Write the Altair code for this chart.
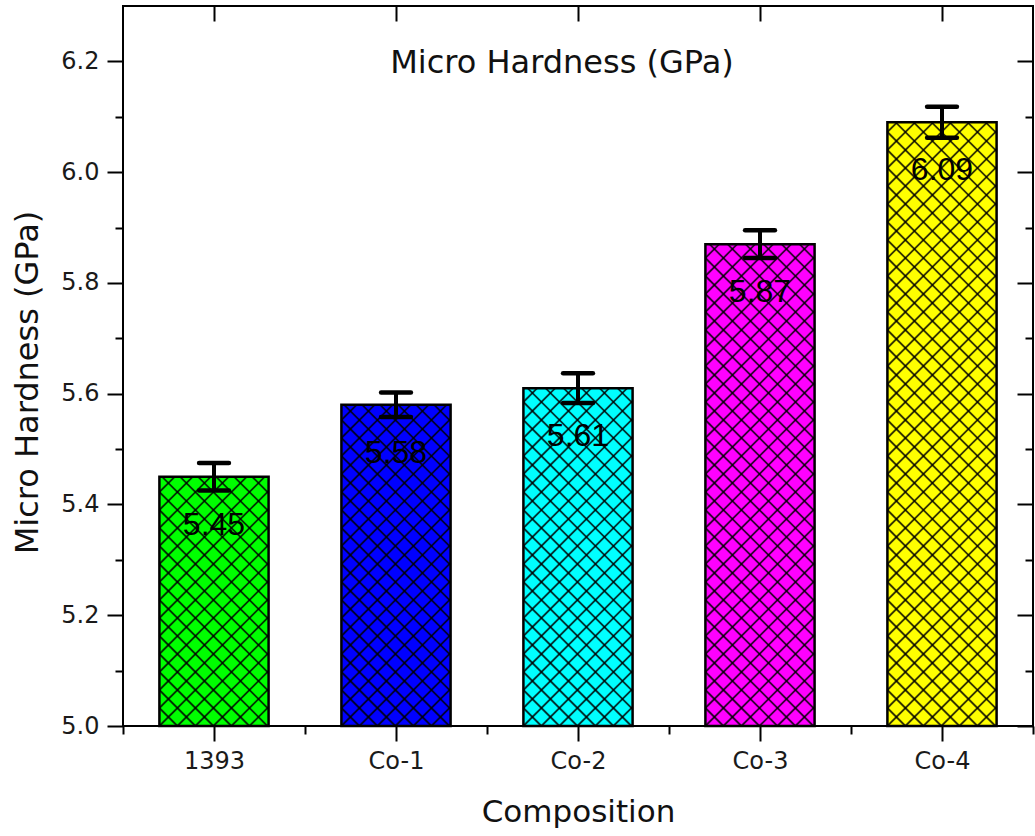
import json

import altair as alt
import numpy as np
import pandas as pd

# ---- data -------------------------------------------------------------
compositions = ["1393", "Co-1", "Co-2", "Co-3", "Co-4"]
hardness = [5.45, 5.58, 5.61, 5.87, 6.09]          # GPa
hardness_err = [0.025, 0.022, 0.027, 0.025, 0.028]  # GPa
bar_colors = ["#00ff00", "#0000ff", "#00ffff", "#ff00ff", "#ffff00"]

y_major = [5.0, 5.2, 5.4, 5.6, 5.8, 6.0, 6.2]
y_minor = [5.1, 5.3, 5.5, 5.7, 5.9, 6.1]

# ---- geometry -----------------------------------------------------------
W, H = 910, 720
Y_MIN, Y_MAX = 5.0, 6.3
N = len(compositions)
BAR_HALF = 0.3      # half bar width in category units
CAP_HALF = 0.082    # half error-cap width in category units
HATCH = 18.0        # crosshatch spacing in pixels

PX_X = W / N                    # pixels per category unit
PX_Y = H / (Y_MAX - Y_MIN)      # pixels per GPa

x_major = [i + 0.5 for i in range(N)]
x_minor = [float(i) for i in range(N + 1)]

bars = pd.DataFrame({
    "composition": compositions,
    "hardness": hardness,
    "err": hardness_err,
    "color": bar_colors,
    "xc": x_major,
})
bars["x0"] = bars["xc"] - BAR_HALF
bars["x1"] = bars["xc"] + BAR_HALF
bars["base"] = Y_MIN
bars["lo"] = bars["hardness"] - bars["err"]
bars["hi"] = bars["hardness"] + bars["err"]
bars["c0"] = bars["xc"] - CAP_HALF
bars["c1"] = bars["xc"] + CAP_HALF
bars["label"] = [f"{v:.2f}" for v in hardness]


# crosshatch segments clipped to each bar (built in pixel space, stored in data units)
def hatch_segments(x0, x1, top):
    px0, px1 = x0 * PX_X, x1 * PX_X
    py_top, py_bot = (Y_MAX - top) * PX_Y, H
    segs = []
    # lines px + py = c
    for c in np.arange(px0 + py_bot - HATCH * 60, px1 + py_bot + HATCH, HATCH):
        a, b = max(px0, c - py_bot), min(px1, c - py_top)
        if b - a > 0.5:
            segs.append((a, c - a, b, c - b))
    # lines px - py = c
    for c in np.arange(px0 - py_bot - HATCH * 60, px1 - py_top + HATCH, HATCH):
        a, b = max(px0, c + py_top), min(px1, c + py_bot)
        if b - a > 0.5:
            segs.append((a, a - c, b, b - c))
    return [
        {"hx": sx / PX_X, "hy": Y_MAX - sy / PX_Y, "hx2": ex / PX_X, "hy2": Y_MAX - ey / PX_Y}
        for sx, sy, ex, ey in segs
    ]


hatch_rows = []
for _, r in bars.iterrows():
    hatch_rows += hatch_segments(r["x0"], r["x1"], r["hardness"])
hatch = pd.DataFrame(hatch_rows)

# ---- scales & axes ------------------------------------------------------
xs = alt.Scale(domain=[0, N], nice=False, zero=False)
ys = alt.Scale(domain=[Y_MIN, Y_MAX], nice=False, zero=False)

FONT = "DejaVu Sans"
label_expr = f"{json.dumps(compositions)}[floor(datum.value)]"

common_axis = dict(domain=False, grid=False, tickColor="black", tickWidth=2)

ax_bottom = alt.Axis(
    orient="bottom", values=x_major, tickSize=15, labelExpr=label_expr,
    labelFont=FONT, labelFontSize=24, labelColor="#1a1a1a", labelPadding=8,
    title="Composition", titleFont=FONT, titleFontSize=31, titleFontWeight="normal",
    titleColor="#111", titlePadding=24, **common_axis,
)
ax_bottom_minor = alt.Axis(orient="bottom", values=x_minor, tickSize=8, labels=False,
                           title=None, **common_axis)
ax_top = alt.Axis(orient="bottom", offset=-H, values=x_major, tickSize=15, labels=False,
                  title=None, **common_axis)

ax_left = alt.Axis(
    orient="left", values=y_major, format=".1f", tickSize=16,
    labelFont=FONT, labelFontSize=24, labelColor="#1a1a1a", labelPadding=8,
    title="Micro Hardness (GPa)", titleFont=FONT, titleFontSize=32,
    titleFontWeight="normal", titleColor="#111", titlePadding=16, titleY=376,
    **common_axis,
)
ax_left_minor = alt.Axis(orient="left", values=y_minor, tickSize=8, labels=False,
                         title=None, **common_axis)
ax_right = alt.Axis(orient="left", offset=-W, values=y_major, tickSize=16, labels=False,
                    title=None, **common_axis)
ax_right_minor = alt.Axis(orient="left", offset=-W, values=y_minor, tickSize=8, labels=False,
                          title=None, **common_axis)

# ---- layers -------------------------------------------------------------
fill = alt.Chart(bars).mark_rect(strokeWidth=0).encode(
    x=alt.X("x0:Q", scale=xs, axis=ax_bottom),
    x2="x1:Q",
    y=alt.Y("hardness:Q", scale=ys, axis=ax_left),
    y2="base:Q",
    color=alt.Color("color:N", scale=None, legend=None),
)

hatch_layer = alt.Chart(hatch).mark_rule(color="#000000", strokeWidth=1.8, opacity=0.8).encode(
    x=alt.X("hx:Q", scale=xs, axis=ax_bottom_minor),
    x2="hx2:Q",
    y=alt.Y("hy:Q", scale=ys, axis=ax_left_minor),
    y2="hy2:Q",
)

outline = alt.Chart(bars).mark_rect(fillOpacity=0, stroke="black", strokeWidth=2.5).encode(
    x=alt.X("x0:Q", scale=xs, axis=ax_top),
    x2="x1:Q",
    y=alt.Y("hardness:Q", scale=ys, axis=ax_right),
    y2="base:Q",
)

err_stem = alt.Chart(bars).mark_rule(color="black", strokeWidth=4).encode(
    x=alt.X("xc:Q", scale=xs, axis=None),
    y=alt.Y("lo:Q", scale=ys, axis=ax_right_minor),
    y2="hi:Q",
)

cap_hi = alt.Chart(bars).mark_rule(color="black", strokeWidth=4.5, strokeCap="round").encode(
    x=alt.X("c0:Q", scale=xs, axis=None),
    x2="c1:Q",
    y=alt.Y("hi:Q", scale=ys, axis=None),
)
cap_lo = alt.Chart(bars).mark_rule(color="black", strokeWidth=4.5, strokeCap="round").encode(
    x=alt.X("c0:Q", scale=xs, axis=None),
    x2="c1:Q",
    y=alt.Y("lo:Q", scale=ys, axis=None),
)

values = alt.Chart(bars).mark_text(
    font="Liberation Sans", fontSize=32, color="#000000", baseline="middle",
    align="center", dy=48,
).encode(
    x=alt.X("xc:Q", scale=xs, axis=None),
    y=alt.Y("hardness:Q", scale=ys, axis=None),
    text="label:N",
)

heading = alt.Chart(pd.DataFrame({"t": ["Micro Hardness (GPa)"]})).mark_text(
    font=FONT, fontSize=32, color="#111", baseline="middle", align="center",
).encode(
    x=alt.value(439), y=alt.value(57), text="t:N",
)

chart = (
    alt.layer(fill, hatch_layer, outline, err_stem, cap_hi, cap_lo, values, heading)
    .resolve_axis(x="independent", y="independent")
    .properties(
        width=W, height=H,
        autosize=alt.AutoSizeParams(type="none"),
        padding={"left": 123, "top": 6, "right": 2, "bottom": 110},
        background="white",
    )
    .configure_view(stroke="black", strokeWidth=2)
)

chart.save("out.html", embed_options={"renderer": "svg", "actions": False})
